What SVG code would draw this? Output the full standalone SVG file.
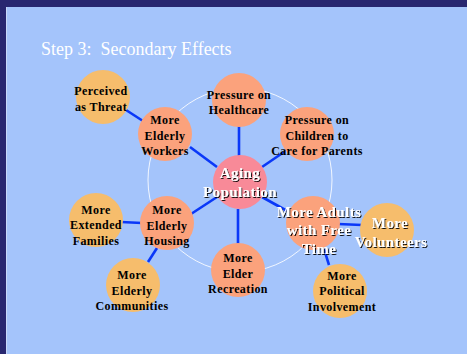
<svg xmlns="http://www.w3.org/2000/svg" width="467" height="354" viewBox="0 0 467 354">
  <defs>
    <filter id="shadow" x="-10%" y="-10%" width="130%" height="130%">
      <feDropShadow dx="1" dy="1" stdDeviation="0" flood-color="#000" flood-opacity="0.9"/>
    </filter>
  </defs>
  <style>
    .bg { fill: #a4c4fb; }
    .frame { fill: #282770; }
    .ring { fill: none; stroke: #ffffff; stroke-width: 1; opacity: 0.85; }
    .link { stroke: #0a38f8; stroke-width: 2.6; stroke-linecap: butt; }
    .primary { fill: #fba27c; }
    .secondary { fill: #f6bd6c; }
    .core { fill: #f88a98; }
    .dark { font-family: "Liberation Serif", "Times New Roman", serif; font-weight: bold; font-size: 12px; letter-spacing: 0.4px; fill: #000; text-anchor: middle; }
    .light { font-family: "Liberation Serif", "Times New Roman", serif; font-weight: bold; font-size: 15px; letter-spacing: 0.4px; fill: #fff; text-anchor: middle; filter: url(#shadow); }
    .title { font-family: "Liberation Serif", "Times New Roman", serif; font-size: 18px; fill: #fff; }
  </style>

  <!-- slide background and frame -->
  <rect class="frame" x="0" y="0" width="467" height="354"/>
  <rect x="6" y="7" width="461" height="347" fill="#c8d8fa"/>
  <rect class="bg" x="7" y="7" width="460" height="347"/>

  <text class="title" x="41" y="55" xml:space="preserve">Step 3:  Secondary Effects</text>

  <!-- guide ring -->
  <circle class="ring" cx="240" cy="180" r="92"/>

  <g id="connectors">
    <line class="link" x1="239" y1="126" x2="239" y2="156"/>
    <line class="link" x1="262" y1="167" x2="284" y2="152"/>
    <line class="link" x1="190" y1="147" x2="217" y2="167"/>
    <line class="link" x1="126" y1="110" x2="143" y2="121"/>
    <line class="link" x1="217" y1="197" x2="191" y2="214"/>
    <line class="link" x1="121" y1="222" x2="142" y2="223"/>
    <line class="link" x1="157" y1="248" x2="148" y2="262"/>
    <line class="link" x1="238" y1="209" x2="238" y2="244"/>
    <line class="link" x1="262" y1="197" x2="289" y2="212"/>
    <line class="link" x1="338" y1="224" x2="362" y2="225"/>
    <line class="link" x1="324" y1="249" x2="329" y2="265"/>
  </g>

  <g id="aging-population">
    <circle class="core" cx="240" cy="182" r="27"/>
    <text class="light" x="240" y="178">Aging</text>
    <text class="light" x="240" y="197">Population</text>
  </g>

  <g id="pressure-healthcare">
    <circle class="primary" cx="239" cy="100" r="27"/>
    <text class="dark" x="239" y="99">Pressure on</text>
    <text class="dark" x="239" y="114">Healthcare</text>
  </g>

  <g id="pressure-children">
    <circle class="primary" cx="307" cy="134" r="27"/>
    <text class="dark" x="317" y="124">Pressure on</text>
    <text class="dark" x="317" y="140">Children to</text>
    <text class="dark" x="317" y="155">Care for Parents</text>
  </g>

  <g id="elderly-workers">
    <circle class="primary" cx="165" cy="134" r="27"/>
    <text class="dark" x="165" y="124">More</text>
    <text class="dark" x="165" y="140">Elderly</text>
    <text class="dark" x="165" y="155">Workers</text>
  </g>

  <g id="perceived-threat">
    <circle class="secondary" cx="103" cy="97" r="27"/>
    <text class="dark" x="101" y="95">Perceived</text>
    <text class="dark" x="101" y="111">as Threat</text>
  </g>

  <g id="elderly-housing">
    <circle class="primary" cx="167" cy="223" r="27"/>
    <text class="dark" x="167" y="214">More</text>
    <text class="dark" x="167" y="230">Elderly</text>
    <text class="dark" x="167" y="245">Housing</text>
  </g>

  <g id="extended-families">
    <circle class="secondary" cx="96" cy="220" r="27"/>
    <text class="dark" x="96" y="214">More</text>
    <text class="dark" x="96" y="229">Extended</text>
    <text class="dark" x="96" y="245">Families</text>
  </g>

  <g id="elderly-communities">
    <circle class="secondary" cx="133" cy="285" r="27"/>
    <text class="dark" x="132" y="279">More</text>
    <text class="dark" x="132" y="295">Elderly</text>
    <text class="dark" x="132" y="310">Communities</text>
  </g>

  <g id="elder-recreation">
    <circle class="primary" cx="238" cy="270" r="27"/>
    <text class="dark" x="238" y="262">More</text>
    <text class="dark" x="238" y="278">Elder</text>
    <text class="dark" x="238" y="293">Recreation</text>
  </g>

  <g id="adults-free-time">
    <circle class="primary" cx="313" cy="223" r="27"/>
    <text class="light" x="319" y="217">More Adults</text>
    <text class="light" x="319" y="235">with Free</text>
    <text class="light" x="319" y="254">Time</text>
  </g>

  <g id="volunteers">
    <circle class="secondary" cx="387" cy="230" r="27"/>
    <text class="light" x="390" y="228">More</text>
    <text class="light" x="391" y="247">Volunteers</text>
  </g>

  <g id="political-involvement">
    <circle class="secondary" cx="340" cy="291" r="27"/>
    <text class="dark" x="342" y="280">More</text>
    <text class="dark" x="342" y="295">Political</text>
    <text class="dark" x="342" y="311">Involvement</text>
  </g>
</svg>
